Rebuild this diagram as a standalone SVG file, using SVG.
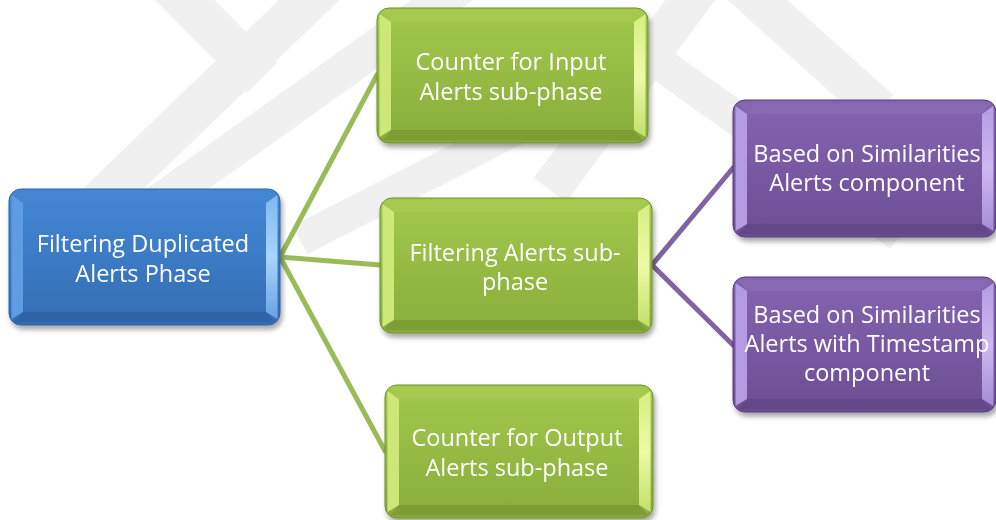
<svg xmlns="http://www.w3.org/2000/svg" width="996" height="520" viewBox="0 0 996 520">
  <style>
    .wm { stroke: #f0f0f0; fill: none; stroke-linecap: butt; }
    .edge-g { stroke: #9bbb59; stroke-width: 5; fill: none; stroke-linecap: round; }
    .edge-p { stroke: #8064a2; stroke-width: 5; fill: none; stroke-linecap: round; }
    .label { font-family: "Open Sans", "Noto Sans", "Liberation Sans", sans-serif; font-size: 23.5px; fill: #ffffff; text-anchor: middle; }
    .blue .body { fill: url(#blueBody); stroke: #2f62a3; stroke-width: 1; }
    .blue .bl { fill: #5f9ce3; }
    .blue .br { fill: url(#blueRight); }
    .blue .bt { fill: #4486d3; }
    .blue .bb { fill: #2f64a8; }
    .green .body { fill: url(#greenBody); stroke: #6f8f2b; stroke-width: 1; }
    .green .bl { fill: #cde878; }
    .green .br { fill: url(#greenRight); }
    .green .bt { fill: #a5ca50; }
    .green .bb { fill: #7d9e34; }
    .purple .body { fill: url(#purpleBody); stroke: #583c7c; stroke-width: 1; }
    .purple .bl { fill: #b49ae0; }
    .purple .br { fill: url(#purpleRight); }
    .purple .bt { fill: #8867b3; }
    .purple .bb { fill: #624689; }
    .node { filter: url(#shadow); }
  </style>
  <defs>
    <filter id="shadow" x="-10%" y="-10%" width="125%" height="130%">
      <feDropShadow dx="2" dy="4" stdDeviation="2.5" flood-color="#000000" flood-opacity="0.35"/>
    </filter>
    <linearGradient id="blueBody" x1="0" y1="0" x2="0" y2="1">
      <stop offset="0" stop-color="#4387d6"/>
      <stop offset="1" stop-color="#346db4"/>
    </linearGradient>
    <linearGradient id="blueRight" x1="0" y1="0" x2="0" y2="1">
      <stop offset="0" stop-color="#7fb8f0"/>
      <stop offset="0.5" stop-color="#a6d6ff"/>
      <stop offset="1" stop-color="#6aa2e0"/>
    </linearGradient>
    <linearGradient id="greenBody" x1="0" y1="0" x2="0" y2="1">
      <stop offset="0" stop-color="#a2c94c"/>
      <stop offset="1" stop-color="#88ad3c"/>
    </linearGradient>
    <linearGradient id="greenRight" x1="0" y1="0" x2="0" y2="1">
      <stop offset="0" stop-color="#d6ee80"/>
      <stop offset="0.5" stop-color="#eefaa8"/>
      <stop offset="1" stop-color="#c2e06a"/>
    </linearGradient>
    <linearGradient id="purpleBody" x1="0" y1="0" x2="0" y2="1">
      <stop offset="0" stop-color="#8464b0"/>
      <stop offset="1" stop-color="#6c4e94"/>
    </linearGradient>
    <linearGradient id="purpleRight" x1="0" y1="0" x2="0" y2="1">
      <stop offset="0" stop-color="#b69be2"/>
      <stop offset="0.5" stop-color="#cdb8f2"/>
      <stop offset="1" stop-color="#a78cd6"/>
    </linearGradient>
  </defs>

  <rect x="0" y="0" width="996" height="520" fill="#ffffff"/>

  <!-- faint background emblem -->
  <g id="watermark">
    <line class="wm" x1="165" y1="-20" x2="262" y2="78" stroke-width="42"/>
    <line class="wm" x1="330" y1="-20" x2="60" y2="240" stroke-width="42"/>
    <line class="wm" x1="470" y1="-20" x2="120" y2="230" stroke-width="36"/>
    <line class="wm" x1="670" y1="50" x2="300" y2="240" stroke-width="32"/>
    <line class="wm" x1="705" y1="-20" x2="550" y2="190" stroke-width="40"/>
    <line class="wm" x1="735" y1="-20" x2="880" y2="110" stroke-width="40"/>
    <line class="wm" x1="655" y1="60" x2="900" y2="235" stroke-width="34"/>
  </g>

  <!-- tree connectors -->
  <g id="connectors">
    <line class="edge-g" x1="280" y1="257" x2="377" y2="75"/>
    <line class="edge-g" x1="280" y1="257" x2="380" y2="265"/>
    <line class="edge-g" x1="280" y1="257" x2="385" y2="451"/>
    <line class="edge-p" x1="652" y1="265" x2="733" y2="168"/>
    <line class="edge-p" x1="652" y1="265" x2="733" y2="345"/>
  </g>

  <!-- root phase -->
  <g id="phase-filtering-duplicated" class="node blue">
    <rect class="body" x="9" y="189" width="271" height="136" rx="12"/>
    <polygon class="bt" points="14,191.5 275,191.5 266,203 23,203"/>
    <polygon class="bb" points="14,322.5 275,322.5 266,312 23,312"/>
    <polygon class="bl" points="11.5,195 23,203 23,312 11.5,319"/>
    <polygon class="br" points="277.5,195 266,203 266,312 277.5,319"/>
    <text class="label" x="143" y="252">Filtering Duplicated</text>
    <text class="label" x="143" y="282">Alerts Phase</text>
  </g>

  <!-- sub-phases -->
  <g id="subphase-counter-input" class="node green">
    <rect class="body" x="377" y="8" width="271" height="135" rx="12"/>
    <polygon class="bt" points="382,10.5 643,10.5 634,22 391,22"/>
    <polygon class="bb" points="382,140.5 643,140.5 634,130 391,130"/>
    <polygon class="bl" points="379.5,14 391,22 391,130 379.5,137"/>
    <polygon class="br" points="645.5,14 634,22 634,130 645.5,137"/>
    <text class="label" x="511" y="70">Counter for Input</text>
    <text class="label" x="511" y="100">Alerts sub-phase</text>
  </g>

  <g id="subphase-filtering-alerts" class="node green">
    <rect class="body" x="380" y="198" width="272" height="135" rx="12"/>
    <polygon class="bt" points="385,200.5 647,200.5 638,212 389,212"/>
    <polygon class="bb" points="385,330.5 647,330.5 638,320 389,320"/>
    <polygon class="bl" points="382.5,204 394,212 394,320 382.5,327"/>
    <polygon class="br" points="649.5,204 638,212 638,320 649.5,327"/>
    <text class="label" x="515" y="261">Filtering Alerts sub-</text>
    <text class="label" x="515" y="290">phase</text>
  </g>

  <g id="subphase-counter-output" class="node green">
    <rect class="body" x="385" y="385" width="268" height="133" rx="12"/>
    <polygon class="bt" points="390,387.5 648,387.5 639,399 399,399"/>
    <polygon class="bb" points="390,515.5 648,515.5 639,505 399,505"/>
    <polygon class="bl" points="387.5,391 399,399 399,505 387.5,512"/>
    <polygon class="br" points="650.5,391 639,399 639,505 650.5,512"/>
    <text class="label" x="517" y="446">Counter for Output</text>
    <text class="label" x="517" y="476">Alerts sub-phase</text>
  </g>

  <!-- components -->
  <g id="component-similarities" class="node purple">
    <rect class="body" x="733" y="100" width="263" height="137" rx="12"/>
    <polygon class="bt" points="738,102.5 991,102.5 982,114 747,114"/>
    <polygon class="bb" points="738,234.5 991,234.5 982,224 747,224"/>
    <polygon class="bl" points="735.5,106 747,114 747,224 735.5,231"/>
    <polygon class="br" points="993.5,106 982,114 982,224 993.5,231"/>
    <text class="label" x="867" y="162">Based on Similarities</text>
    <text class="label" x="867" y="191">Alerts component</text>
  </g>

  <g id="component-similarities-timestamp" class="node purple">
    <rect class="body" x="733" y="277" width="263" height="135" rx="12"/>
    <polygon class="bt" points="738,279.5 991,279.5 982,291 747,291"/>
    <polygon class="bb" points="738,409.5 991,409.5 982,399 747,399"/>
    <polygon class="bl" points="735.5,283 747,291 747,399 735.5,406"/>
    <polygon class="br" points="993.5,283 982,291 982,399 993.5,406"/>
    <text class="label" x="867" y="323">Based on Similarities</text>
    <text class="label" x="867" y="352">Alerts with Timestamp</text>
    <text class="label" x="867" y="381">component</text>
  </g>
</svg>
